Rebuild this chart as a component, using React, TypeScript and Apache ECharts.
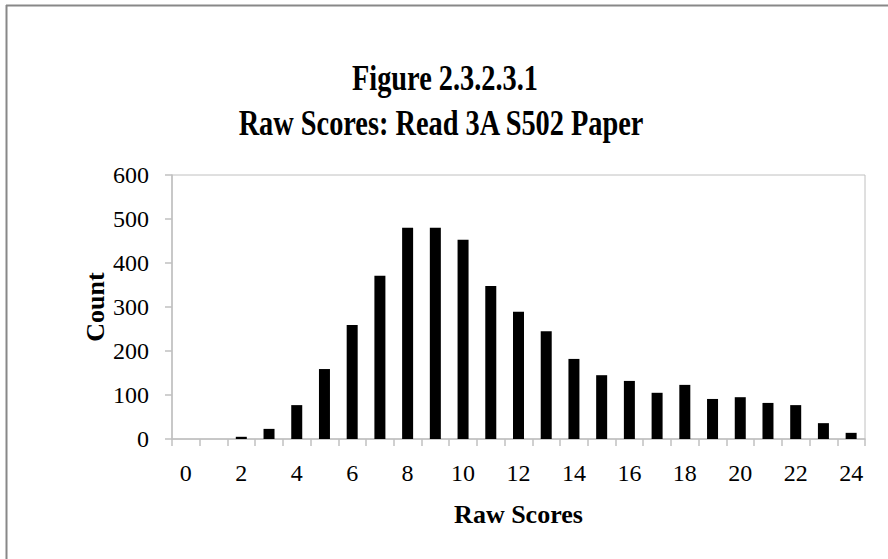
import React, { useEffect, useRef } from "react";
import * as echarts from "echarts";

const categories = ["0","1","2","3","4","5","6","7","8","9","10","11","12","13","14","15","16","17","18","19","20","21","22","23","24"];
const counts = [0, 0, 5, 23, 77, 159, 259, 371, 480, 480, 453, 348, 289, 245, 182, 145, 132, 105, 123, 91, 95, 82, 77, 36, 14];
const yTicks = { min: 0, max: 600, interval: 100 };
const titleLines = ["Figure 2.3.2.3.1", "Raw Scores: Read 3A S502 Paper"];
const xName = "Raw Scores";
const yName = "Count";

const FONT = "Liberation Serif";

export default function App() {
  const ref = useRef<HTMLDivElement>(null);
  useEffect(() => {
    if (!ref.current) return;
    const chart = echarts.init(ref.current, undefined, { renderer: "svg" });
    chart.setOption({
      animation: false,
      backgroundColor: "#ffffff",
      graphic: [
        { type: "line", shape: { x1: 6, y1: 5.5, x2: 888, y2: 5.5 }, style: { stroke: "#888888", lineWidth: 2 } },
        { type: "line", shape: { x1: 6.5, y1: 5, x2: 6.5, y2: 559 }, style: { stroke: "#888888", lineWidth: 2 } },
        {
          type: "text", x: 445, y: 78, scaleX: 0.81,
          style: { text: titleLines[0], x: 0, y: 0, align: "center", verticalAlign: "middle", fill: "#000", font: "bold 35px 'Liberation Serif'" },
        },
        {
          type: "text", x: 441, y: 123, scaleX: 0.81,
          style: { text: titleLines[1], x: 0, y: 0, align: "center", verticalAlign: "middle", fill: "#000", font: "bold 35px 'Liberation Serif'" },
        },
      ],
      grid: {
        left: 172, right: 23, top: 175, bottom: 120,
        show: true, borderColor: "#c0c0c0", borderWidth: 1, backgroundColor: "transparent",
      },
      xAxis: {
        type: "category",
        data: categories,
        name: xName,
        nameLocation: "middle",
        nameGap: 62,
        nameTextStyle: { fontFamily: FONT, fontWeight: "bold", fontSize: 26, color: "#000" },
        axisLine: { lineStyle: { color: "#c0c0c0", width: 1.5 } },
        axisTick: { show: true, interval: 0, length: 7, lineStyle: { color: "#c0c0c0", width: 1.5 } },
        axisLabel: { interval: 1, margin: 22, fontFamily: FONT, fontSize: 24, color: "#000" },
        splitLine: { show: false },
      },
      yAxis: {
        type: "value",
        min: yTicks.min,
        max: yTicks.max,
        interval: yTicks.interval,
        name: yName,
        nameLocation: "middle",
        nameGap: 64,
        nameMoveOverlap: false,
        nameRotate: 90,
        nameTextStyle: { fontFamily: FONT, fontWeight: "bold", fontSize: 26, color: "#000" },
        axisLine: { show: true, lineStyle: { color: "#c0c0c0", width: 1.5 } },
        axisTick: { show: true, length: 7, lineStyle: { color: "#c0c0c0", width: 1.5 } },
        axisLabel: { margin: 23, fontFamily: FONT, fontSize: 24, color: "#000" },
        splitLine: { show: false },
      },
      series: [
        {
          type: "bar",
          data: counts,
          barWidth: 11,
          itemStyle: { color: "#000000", borderWidth: 0 },
        },
      ],
    });
    return () => chart.dispose();
  }, []);
  return <div ref={ref} style={{ position: "fixed", left: 0, top: 0, width: 888, height: 559 }} />;
}
